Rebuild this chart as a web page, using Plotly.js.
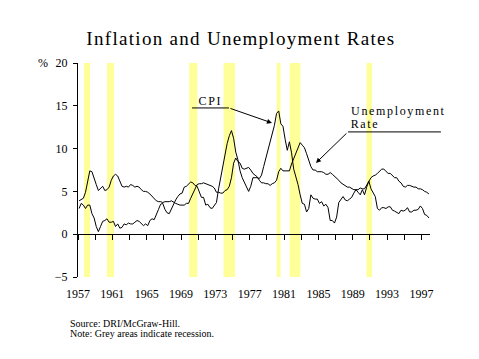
<!DOCTYPE html>
<html>
<head>
<meta charset="utf-8">
<script src="https://cdn.plot.ly/plotly-3.0.1.min.js"></script>
<style>
  html, body { margin: 0; padding: 0; background: #fff; }
  #chart { width: 479px; height: 359px; }
  .gtitle { letter-spacing: 1.3px; }
  g.annotation[data-index="1"] text { letter-spacing: 1.6px; }
  g.annotation[data-index="2"] text,
  g.annotation[data-index="3"] text { letter-spacing: 1.65px; }
</style>
</head>
<body>
<div id="chart"></div>
<script>
// ---- Data (quarterly averages, 1957 Q1 .. 1997 Q4) ----
var startYear = 1957;
var endYear = 1997;

var unemploymentRate = [
  3.9, 4.1, 4.2, 4.9,   // 1957
  6.3, 7.4, 7.3, 6.4,   // 1958
  5.8, 5.1, 5.3, 5.6,   // 1959
  5.1, 5.2, 5.5, 6.3,   // 1960
  6.8, 7.0, 6.8, 6.2,   // 1961
  5.6, 5.5, 5.6, 5.5,   // 1962
  5.8, 5.7, 5.5, 5.6,   // 1963
  5.5, 5.2, 5.0, 5.0,   // 1964
  4.9, 4.7, 4.4, 4.1,   // 1965
  3.9, 3.8, 3.8, 3.7,   // 1966
  3.8, 3.8, 3.8, 3.9,   // 1967
  3.7, 3.6, 3.5, 3.4,   // 1968
  3.4, 3.4, 3.6, 3.6,   // 1969
  4.2, 4.8, 5.2, 5.8,   // 1970
  5.9, 5.9, 6.0, 5.9,   // 1971
  5.8, 5.7, 5.6, 5.4,   // 1972
  4.9, 4.9, 4.8, 4.8,   // 1973
  5.1, 5.2, 5.6, 6.6,   // 1974
  8.3, 8.9, 8.5, 8.3,   // 1975
  7.7, 7.6, 7.7, 7.8,   // 1976
  7.5, 7.1, 6.9, 6.7,   // 1977
  6.3, 6.0, 6.0, 5.9,   // 1978
  5.9, 5.7, 5.9, 6.0,   // 1979
  6.3, 7.3, 7.7, 7.4,   // 1980
  7.4, 7.4, 7.4, 8.2,   // 1981
  8.8, 9.4, 9.9, 10.7,  // 1982
  10.4, 10.1, 9.4, 8.5, // 1983
  7.9, 7.5, 7.5, 7.3,   // 1984
  7.3, 7.3, 7.2, 7.0,   // 1985
  7.0, 7.2, 7.0, 6.8,   // 1986
  6.6, 6.3, 6.0, 5.8,   // 1987
  5.7, 5.5, 5.5, 5.3,   // 1988
  5.2, 5.2, 5.2, 5.4,   // 1989
  5.3, 5.3, 5.7, 6.1,   // 1990
  6.6, 6.8, 6.9, 7.1,   // 1991
  7.4, 7.6, 7.6, 7.4,   // 1992
  7.1, 7.1, 6.8, 6.6,   // 1993
  6.6, 6.2, 6.0, 5.6,   // 1994
  5.5, 5.7, 5.7, 5.6,   // 1995
  5.5, 5.5, 5.3, 5.3,   // 1996
  5.2, 5.0, 4.9, 4.7    // 1997
];

var cpiInflation = [
  3.0, 3.6, 3.4, 3.0,   // 1957
  3.4, 3.4, 2.4, 1.9,   // 1958
  0.9, 0.3, 0.9, 1.5,   // 1959
  1.6, 1.8, 1.4, 1.4,   // 1960
  1.5, 0.9, 1.2, 0.7,   // 1961
  0.8, 1.2, 1.1, 1.3,   // 1962
  1.2, 1.2, 1.4, 1.6,   // 1963
  1.5, 1.2, 1.0, 1.2,   // 1964
  1.0, 1.6, 1.8, 1.7,   // 1965
  2.4, 2.9, 3.5, 3.6,   // 1966
  2.9, 2.5, 2.4, 3.0,   // 1967
  3.6, 4.0, 4.4, 4.7,   // 1968
  4.8, 5.5, 5.6, 5.9,   // 1969
  6.1, 6.0, 5.7, 5.6,   // 1970
  4.9, 4.3, 4.3, 3.4,   // 1971
  3.5, 3.1, 3.0, 3.4,   // 1972
  3.7, 5.3, 6.6, 8.1,   // 1973
  9.6, 10.6, 11.5, 12.1,// 1974
  11.2, 9.6, 8.7, 7.4,  // 1975
  6.6, 6.0, 5.5, 5.0,   // 1976
  5.6, 6.6, 6.6, 6.6,   // 1977
  6.5, 6.9, 7.9, 8.9,   // 1978
  9.8, 10.7, 11.8, 12.7,// 1979
  14.1, 14.4, 12.9, 12.6,// 1980
  11.1, 9.8, 10.8, 9.5, // 1981
  7.6, 6.8, 5.8, 4.6,   // 1982
  3.6, 3.5, 2.6, 3.0,   // 1983
  4.6, 4.2, 4.1, 4.1,   // 1984
  3.6, 3.8, 3.3, 3.5,   // 1985
  3.1, 1.6, 1.6, 1.3,   // 1986
  2.0, 3.7, 4.0, 4.4,   // 1987
  4.0, 3.9, 4.1, 4.3,   // 1988
  4.8, 5.2, 4.9, 4.6,   // 1989
  5.2, 4.6, 5.5, 6.2,   // 1990
  5.3, 4.9, 4.4, 3.0,   // 1991
  2.8, 3.1, 3.1, 3.0,   // 1992
  3.2, 3.2, 2.8, 2.7,   // 1993
  2.5, 2.4, 2.8, 2.7,   // 1994
  2.8, 3.1, 2.6, 2.6,   // 1995
  2.8, 2.8, 2.9, 3.3,   // 1996
  3.0, 2.3, 2.2, 1.9    // 1997
];

// Recession periods (decimal years)
var recessionStart = [1957.70, 1960.37, 1969.95, 1973.95, 1980.15, 1981.65, 1990.60];
var recessionEnd   = [1958.40, 1961.19, 1970.90, 1975.30, 1980.60, 1982.90, 1991.25];

var yearTickLabels = ['1957','1961','1965','1969','1973','1977','1981','1985','1989','1993','1997'];
var yTickValues = [-5, 0, 5, 10, 15, 20];

// quarter mid-points as time categories
var quarterTimes = [];
for (var yr = startYear; yr <= endYear; yr++) {
  for (var q = 0; q < 4; q++) quarterTimes.push(yr + q * 0.25 + 0.125);
}

var serif = '"Liberation Serif", "Times New Roman", serif';
var black = '#000000';

var traces = [
  { x: quarterTimes, y: cpiInflation, type: 'scatter', mode: 'lines',
    line: { color: black, width: 1 }, xaxis: 'x', yaxis: 'y', hoverinfo: 'skip', name: 'CPI' },
  { x: quarterTimes, y: unemploymentRate, type: 'scatter', mode: 'lines',
    line: { color: black, width: 1 }, xaxis: 'x2', yaxis: 'y', hoverinfo: 'skip', name: 'Unemployment Rate' }
];

var shapes = recessionStart.map(function (s, i) {
  return { type: 'rect', xref: 'x', yref: 'paper', x0: s, x1: recessionEnd[i], y0: 0, y1: 1,
           fillcolor: '#FFFF99', line: { width: 0 }, layer: 'below' };
});
// annotation leader lines
shapes.push({ type: 'line', xref: 'paper', yref: 'paper', x0: 0.324, x1: 0.429, y0: 0.790, y1: 0.790,
              line: { color: black, width: 1 } });
shapes.push({ type: 'line', xref: 'paper', yref: 'paper', x0: 0.767, x1: 1.031, y0: 0.678, y1: 0.678,
              line: { color: black, width: 1 } });

var axisFont = { family: serif, size: 12, color: black };

var layout = {
  width: 479, height: 359,
  margin: { l: 78, r: 49, t: 63, b: 82 },
  paper_bgcolor: '#ffffff', plot_bgcolor: '#ffffff',
  showlegend: false,
  title: { text: 'Inflation and Unemployment Rates', xref: 'container', yref: 'container',
           x: 0.503, y: 0.894, xanchor: 'center', yanchor: 'middle',
           font: { family: serif, size: 19, color: black } },
  xaxis: {
    range: [1957, 1998], showline: false, showgrid: false, zeroline: false,
    ticks: '', tickmode: 'array', tickvals: yearTickLabels.map(Number), ticktext: yearTickLabels,
    tickfont: axisFont, ticklabelstandoff: 8
  },
  xaxis2: {
    range: [1957, 1998], overlaying: 'x', anchor: 'free', position: 0.2,
    showline: true, linecolor: black, linewidth: 1, showgrid: false, zeroline: false,
    ticks: 'outside', ticklen: 5, tickwidth: 1, tickcolor: black,
    tick0: 1957, dtick: 2, showticklabels: false
  },
  yaxis: {
    range: [-5, 20], showline: true, linecolor: black, linewidth: 1,
    showgrid: false, zeroline: false, ticks: 'outside', ticklen: 4, tickcolor: black,
    tickmode: 'array', tickvals: yTickValues, tickfont: axisFont, ticklabelstandoff: 3
  },
  shapes: shapes,
  annotations: [
    { text: '%', xref: 'paper', yref: 'paper', x: -0.099, y: 1, xanchor: 'center', yanchor: 'middle',
      showarrow: false, font: axisFont },
    { text: 'CPI', xref: 'paper', yref: 'paper', x: 0.376, y: 0.822, xanchor: 'center', yanchor: 'middle',
      showarrow: false, font: { family: serif, size: 12, color: black } },
    { text: 'Unemployment', xref: 'paper', yref: 'paper', x: 0.798, y: 0.776, xanchor: 'left', yanchor: 'middle',
      showarrow: false, font: { family: serif, size: 12, color: black } },
    { text: 'Rate', xref: 'paper', yref: 'paper', x: 0.779, y: 0.715, xanchor: 'left', yanchor: 'middle',
      showarrow: false, font: { family: serif, size: 12, color: black } },
    { text: '', xref: 'paper', yref: 'paper', x: 0.551, y: 0.720, ax: -43, ay: -15,
      showarrow: true, arrowhead: 2, arrowsize: 1, arrowwidth: 1, arrowcolor: black, standoff: 0 },
    { text: '', xref: 'paper', yref: 'paper', x: 0.676, y: 0.533, ax: 32, ay: -31,
      showarrow: true, arrowhead: 2, arrowsize: 1, arrowwidth: 1, arrowcolor: black, standoff: 0 },
    { text: 'Source: DRI/McGraw-Hill.', xref: 'paper', yref: 'paper', x: -0.028, y: -0.215,
      xanchor: 'left', yanchor: 'middle', showarrow: false, font: { family: serif, size: 10, color: black } },
    { text: 'Note: Grey areas indicate recession.', xref: 'paper', yref: 'paper', x: -0.028, y: -0.262,
      xanchor: 'left', yanchor: 'middle', showarrow: false, font: { family: serif, size: 10, color: black } }
  ]
};

Plotly.newPlot('chart', traces, layout, { staticPlot: true, displayModeBar: false });
</script>
</body>
</html>
